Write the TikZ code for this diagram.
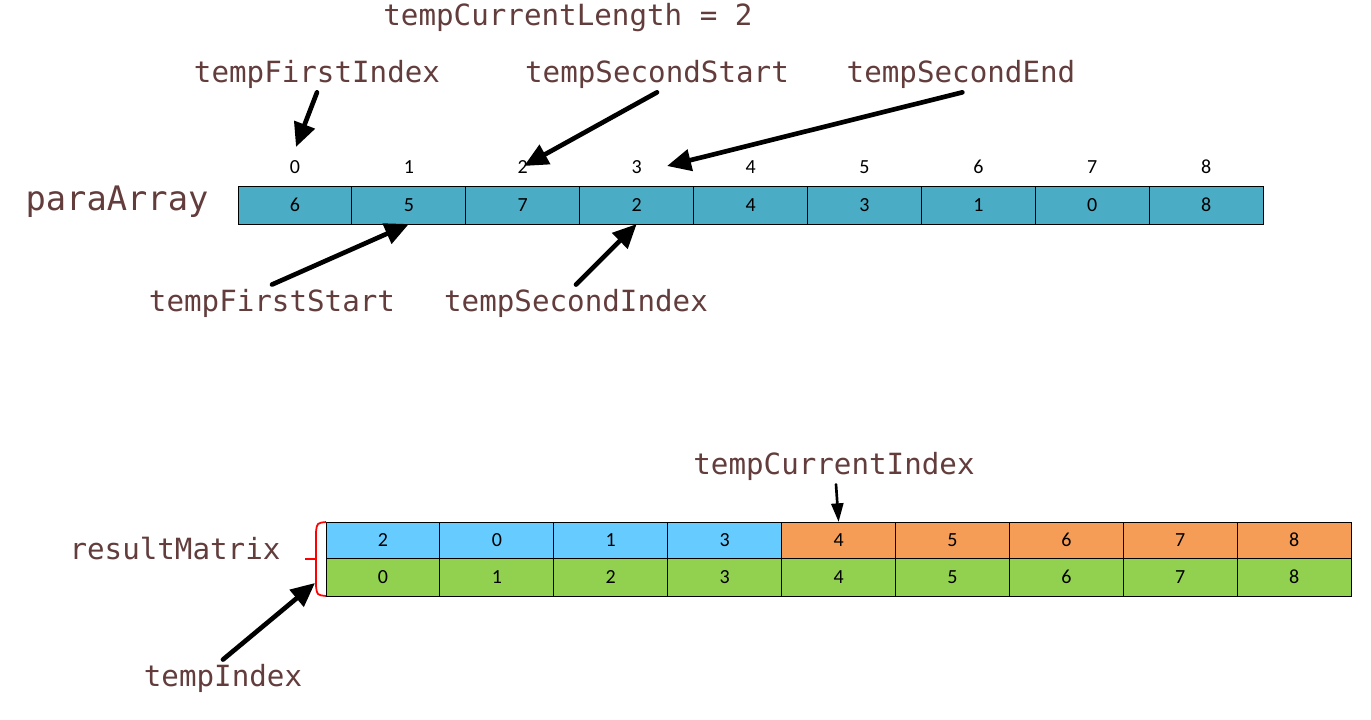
\documentclass[tikz,border=0pt]{standalone}
\usepackage{fontspec}
\setmainfont{Carlito}
\newfontfamily\labelfont{DejaVu Sans Mono}
\usetikzlibrary{arrows.meta}
\definecolor{labelred}{HTML}{633C3C}
\definecolor{arrteal}{HTML}{4BACC6}
\definecolor{rowblue}{HTML}{66CCFF}
\definecolor{roworange}{HTML}{F59D56}
\definecolor{rowgreen}{HTML}{92D050}

\begin{document}
\begin{tikzpicture}[x=0.75pt,y=-0.75pt,
    lbl/.style={font=\labelfont\fontsize{21.9}{24}\selectfont, text=labelred, inner sep=3pt, anchor=base},
    cell/.style={draw, line width=0.75pt, minimum width=85.5pt, minimum height=28.5pt, inner sep=0pt, outer sep=0pt, font=\fontsize{15}{17}\selectfont},
    idx/.style={font=\fontsize{15}{17}\selectfont, anchor=base},
    ptr/.style={line width=3.5pt, line cap=round, -{Triangle[length=18pt,width=16pt]}},
    thinptr/.style={line width=2pt, line cap=round, -{Triangle[length=14pt,width=9pt]}}]
    \useasboundingbox (0,0) rectangle (1371,719);

    % labels
    \node[lbl] (len) at (568,25) {tempCurrentLength = 2} ;
    \node[lbl] (tfi) at (317,82) {tempFirstIndex} ;
    \node[lbl] (tss) at (657,82) {tempSecondStart} ;
    \node[lbl] (tse) at (961,82) {tempSecondEnd} ;
    \node[lbl, font=\labelfont\fontsize{25.3}{28}\selectfont] (para) at (117,210) {paraArray} ;
    \node[lbl] (tfs) at (272,311) {tempFirstStart} ;
    \node[lbl] (tsi) at (576,311) {tempSecondIndex} ;
    \node[lbl] (res) at (175,559) {resultMatrix} ;
    \node[lbl] (tci) at (834,474) {tempCurrentIndex} ;
    \node[lbl] (ti) at (223,686) {tempIndex} ;

    % paraArray
    \foreach \v [count=\k from 0] in {6,5,7,2,4,3,1,0,8} {
        \node[cell, fill=arrteal] (p\k) at ({295+113.9*\k},205) {\v} ;
        \node[idx] (i\k) at ({295+113.9*\k},173) {\k} ;
    }

    % resultMatrix
    \foreach \v [count=\k from 0] in {2,0,1,3} {
        \node[cell, fill=rowblue, minimum height=27pt] (r\k) at ({383+113.9*\k},540) {\v} ;
    }
    \foreach \k in {4,...,8} {
        \node[cell, fill=roworange, minimum height=27pt] (r\k) at ({383+113.9*\k},540) {\k} ;
    }
    \foreach \k in {0,...,8} {
        \node[cell, fill=rowgreen] (s\k) at ({383+113.9*\k},577) {\k} ;
    }

    % brace
    \draw[red, line width=1.3pt] (326,522) .. controls (317,523) .. (316,532) -- (316,586) .. controls (317,595) .. (326,596) ;
    \draw[red, line width=1.3pt] (305,559) -- (316,559) ;

    \coordinate (fiTip) at (296,147) ;
    \coordinate (ssTip) at (524,166) ;
    \coordinate (seTip) at (667,166) ;
    \coordinate (braceLow) at (315,583) ;

    \draw[ptr] (tfi.south) -- (fiTip) ;
    \draw[ptr] (tss.south) -- (ssTip) ;
    \draw[ptr] ([xshift=1pt]tse.south) -- (seTip) ;
    \draw[ptr] (tfs.north) -- (p1.south) ;
    \draw[ptr] (tsi.north) -- (p3.south) ;
    \draw[thinptr] ([xshift=1.5pt]tci.south) -- (r4.north) ;
    \draw[ptr] (ti.north) -- (braceLow) ;
\end{tikzpicture}
\end{document}
